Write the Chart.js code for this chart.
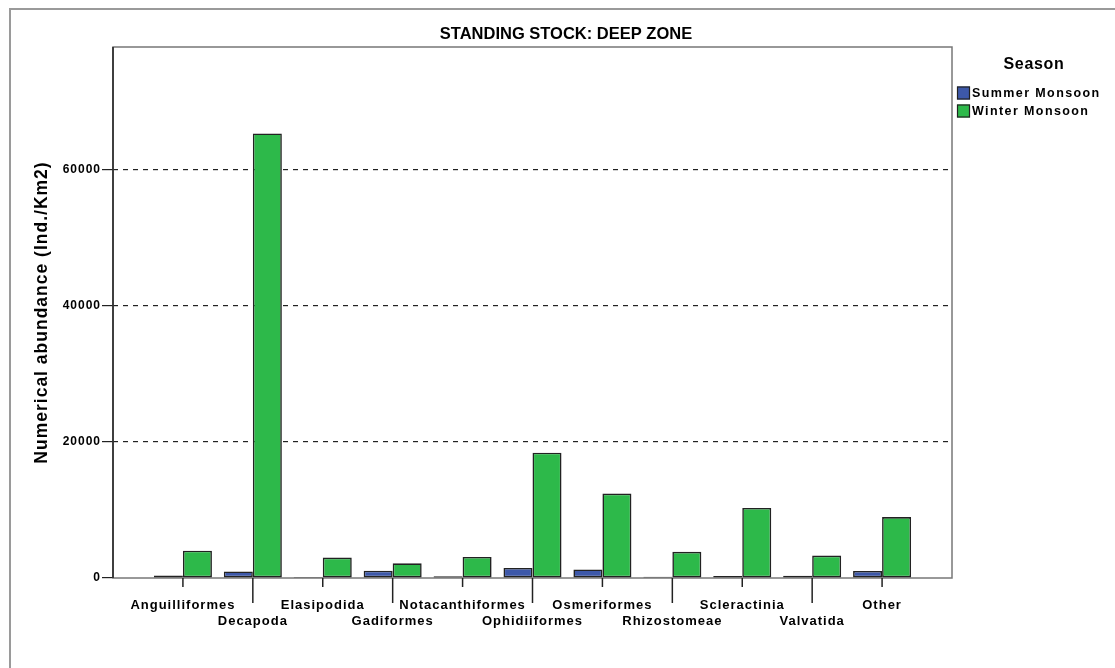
<!DOCTYPE html>
<html>
<head>
<meta charset="utf-8">
<script src="https://cdn.jsdelivr.net/npm/chart.js@4.4.1/dist/chart.umd.min.js"></script>
<style>
  body { margin: 0; background: #fff; }
  #wrap { position: relative; width: 1115px; height: 668px; }
  #frame { position: absolute; left: 9px; top: 8px; right: 0; bottom: 0; border-top: 2px solid #9a9a9a; border-left: 2px solid #9a9a9a; }
  canvas { position: absolute; left: 0; top: 0; }
</style>
</head>
<body>
<div id="wrap"><div id="frame"></div><canvas id="stockChart" width="1115" height="668"></canvas></div>
<script>
const categories = ['Anguilliformes', 'Decapoda', 'Elasipodida', 'Gadiformes', 'Notacanthiformes',
  'Ophidiiformes', 'Osmeriformes', 'Rhizostomeae', 'Scleractinia', 'Valvatida', 'Other'];
const summerMonsoon = [380, 970, 150, 1070, 250, 1470, 1260, 180, 300, 330, 1030];
const winterMonsoon = [4000, 65300, 3000, 2150, 3100, 18400, 12400, 3850, 10300, 3300, 8950];
const yTicks = [0, 20000, 40000, 60000];
const seasons = ['Summer Monsoon', 'Winter Monsoon'];
const seasonColors = ['#3d58a9', '#2db94a'];

const FONT = '"Liberation Sans", Arial, sans-serif';

// an empty slot on each side, and every second name dropped to a lower row
const labels = [''].concat(categories.map((c, i) => i % 2 ? ['', c] : [c]), ['']);
function pad(arr) { return [null].concat(arr, [null]); }

const framePlugin = {
  id: 'frame',
  beforeDraw(chart) {
    chart.ctx.letterSpacing = '1px';
  },
  beforeDatasetsDraw(chart) {
    const ctx = chart.ctx, a = chart.chartArea;
    ctx.save();
    ctx.lineWidth = 1.5;
    ctx.strokeStyle = '#777';
    ctx.strokeRect(a.left, a.top, a.right - a.left, a.bottom - a.top);
    ctx.strokeStyle = '#222';
    ctx.beginPath();
    ctx.moveTo(a.left, a.top);
    ctx.lineTo(a.left, a.bottom);
    ctx.stroke();
    // x tick marks, long ones reach the lower label row
    const x = chart.scales.x;
    categories.forEach((c, i) => {
      const px = x.getPixelForTick(i + 1);
      ctx.beginPath();
      ctx.moveTo(px, a.bottom);
      ctx.lineTo(px, a.bottom + (i % 2 ? 25 : 9));
      ctx.stroke();
    });
    ctx.restore();
  },
  afterDraw(chart) {
    const ctx = chart.ctx, a = chart.chartArea;
    ctx.save();
    ctx.fillStyle = '#000';
    ctx.textBaseline = 'middle';
    ctx.textAlign = 'center';
    ctx.letterSpacing = '0px';
    ctx.font = 'bold 16.5px ' + FONT;
    ctx.fillText('STANDING STOCK: DEEP ZONE', (9 + chart.width) / 2 + 4, 34);

    ctx.letterSpacing = '0.7px';
    ctx.font = 'bold 16px ' + FONT;
    ctx.fillText('Season', a.right + 82, 65);

    ctx.textAlign = 'left';
    ctx.letterSpacing = '1.4px';
    ctx.font = 'bold 12.5px ' + FONT;
    seasons.forEach((s, i) => {
      const y = 93 + i * 18;
      ctx.fillStyle = seasonColors[i];
      ctx.fillRect(a.right + 5, y - 6.5, 13, 13);
      ctx.strokeStyle = '#222';
      ctx.lineWidth = 1.2;
      ctx.strokeRect(a.right + 5.5, y - 6, 12, 12);
      ctx.fillStyle = '#000';
      ctx.fillText(s, a.right + 20, y + 1);
    });
    ctx.restore();
  }
};

const ctx = document.getElementById('stockChart').getContext('2d');

new Chart(ctx, {
  type: 'bar',
  data: {
    labels: labels,
    datasets: [{
      label: seasons[0],
      data: pad(summerMonsoon),
      backgroundColor: seasonColors[0],
      borderColor: '#222',
      borderWidth: 1.6,
      borderSkipped: false,
      categoryPercentage: 0.83,
      barPercentage: 1
    }, {
      label: seasons[1],
      data: pad(winterMonsoon),
      backgroundColor: seasonColors[1],
      borderColor: '#222',
      borderWidth: 1.6,
      borderSkipped: false,
      categoryPercentage: 0.83,
      barPercentage: 1
    }]
  },
  options: {
    responsive: false,
    animation: false,
    layout: { padding: { top: 47, right: 163, bottom: 0, left: 0 } },
    plugins: {
      legend: { display: false },
      tooltip: { enabled: false }
    },
    scales: {
      x: {
        offset: false,
        grid: { display: false, offset: false },
        border: { display: false },
        ticks: {
          autoSkip: false,
          maxRotation: 0,
          padding: 11,
          color: '#000',
          font: { family: FONT, size: 13, weight: 'bold', lineHeight: 1.25 }
        },
        afterFit(s) { s.height = 90; }
      },
      y: {
        min: 0,
        max: 78000,
        afterBuildTicks(s) { s.ticks = yTicks.map(v => ({ value: v })); },
        ticks: {
          padding: 1,
          color: '#000',
          font: { family: FONT, size: 12, weight: 'bold' },
          callback: v => String(v)
        },
        grid: {
          color: c => (c.tick && c.tick.value === 0) ? 'rgba(0,0,0,0)' : '#222',
          tickColor: '#222',
          tickLength: 11,
          lineWidth: 1.2
        },
        border: { display: false, dash: [5, 5] },
        title: {
          display: true,
          text: 'Numerical abundance (Ind./Km2)',
          color: '#000',
          font: { family: FONT, size: 17.5, weight: 'bold' },
          padding: { top: 32, bottom: 0 }
        },
        afterFit(s) { s.width = 113; }
      }
    }
  },
  plugins: [framePlugin]
});
</script>
</body>
</html>
